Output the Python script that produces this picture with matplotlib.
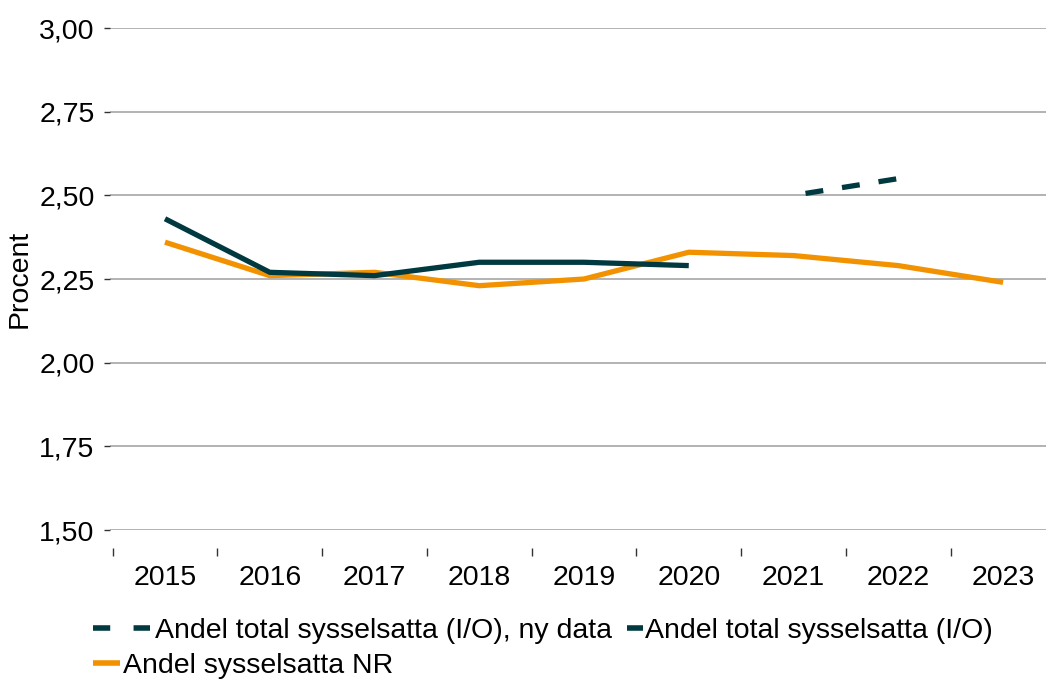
import matplotlib
matplotlib.use("Agg")
import matplotlib.pyplot as plt
from matplotlib.lines import Line2D
import numpy as np

years = ["2015", "2016", "2017", "2018", "2019", "2020", "2021", "2022", "2023"]
andel_nr = [2.36, 2.26, 2.27, 2.23, 2.25, 2.33, 2.32, 2.29, 2.24]
andel_io = [2.43, 2.27, 2.26, 2.30, 2.30, 2.29, None, None, None]
andel_io_ny = [None, None, None, None, None, None, 2.50, 2.55, None]

yticks = [1.50, 1.75, 2.00, 2.25, 2.50, 2.75, 3.00]

DARK = "#003a40"
ORANGE = "#f39200"
FS = 20.5

plt.rcParams['font.family'] = ['Liberation Sans', 'DejaVu Sans']

fig = plt.figure(figsize=(10.46, 6.79), dpi=100)
ax = fig.add_axes([110/1046, 1-530/679, 1-110/1046, (530-28)/679])

x = np.arange(len(years))

def to_arr(v):
    return np.array([np.nan if a is None else a for a in v], dtype=float)

LW = 3.8
ax.plot(x, to_arr(andel_nr), color=ORANGE, lw=LW, solid_capstyle='butt', zorder=3)
ax.plot(x, to_arr(andel_io), color=DARK, lw=LW, solid_capstyle='butt', zorder=4)
ax.plot(x, to_arr(andel_io_ny), color=DARK, lw=LW, linestyle=(4.7, (3.4, 3.6)),
        dash_capstyle='butt', zorder=4)

ax.set_xlim(-0.525, 8.41)
ax.set_ylim(1.5, 3.0)
ax.set_yticks(yticks)
ax.set_yticklabels([f"{v:.2f}".replace(".", ",") for v in yticks])
ax.yaxis.grid(True, color="#a6a6a6", lw=1.2)
ax.set_axisbelow(True)

ax.set_xticks(np.arange(-0.5, 8.0, 1.0), minor=False)
ax.set_xticklabels([])
ax.set_xticks(x, minor=True)
ax.set_xticklabels(years, minor=True)
ax.tick_params(axis='x', which='major', direction='out', length=6, width=1.0, color="#333333")
ax.tick_params(axis='x', which='minor', length=0, pad=12, labelsize=FS)
ax.tick_params(axis='y', direction='out', length=4.5, width=1.0, color="#333333", pad=6.5, labelsize=FS)

for s in ["top", "right", "left"]:
    ax.spines[s].set_visible(False)
ax.spines["bottom"].set_position(("outward", 13))
ax.spines["bottom"].set_visible(False)

ax.set_ylabel("Procent", fontsize=FS, labelpad=5)

em = FS * 100 / 72.0  # pixels per em

def add_leg(handle, label, xpx, ypx, hlen_px, pad_px):
    leg = fig.legend([handle], [label], loc="center left",
                     bbox_to_anchor=(xpx/1046, 1-ypx/679), frameon=False, fontsize=FS,
                     handlelength=hlen_px/em, handletextpad=pad_px/em,
                     borderaxespad=0, borderpad=0)
    return leg

add_leg(Line2D([], [], color=DARK, lw=4, linestyle=(0, (3.1, 4.2)), dash_capstyle='butt'),
        "Andel total sysselsatta (I/O), ny data", 93, 631, 57, 5)
add_leg(Line2D([], [], color=DARK, lw=4, solid_capstyle='butt'),
        "Andel total sysselsatta (I/O)", 627, 631, 16, 2)
add_leg(Line2D([], [], color=ORANGE, lw=4, solid_capstyle='butt'),
        "Andel sysselsatta NR", 93, 666, 27, 3)

fig.savefig("out.png", dpi=100)
